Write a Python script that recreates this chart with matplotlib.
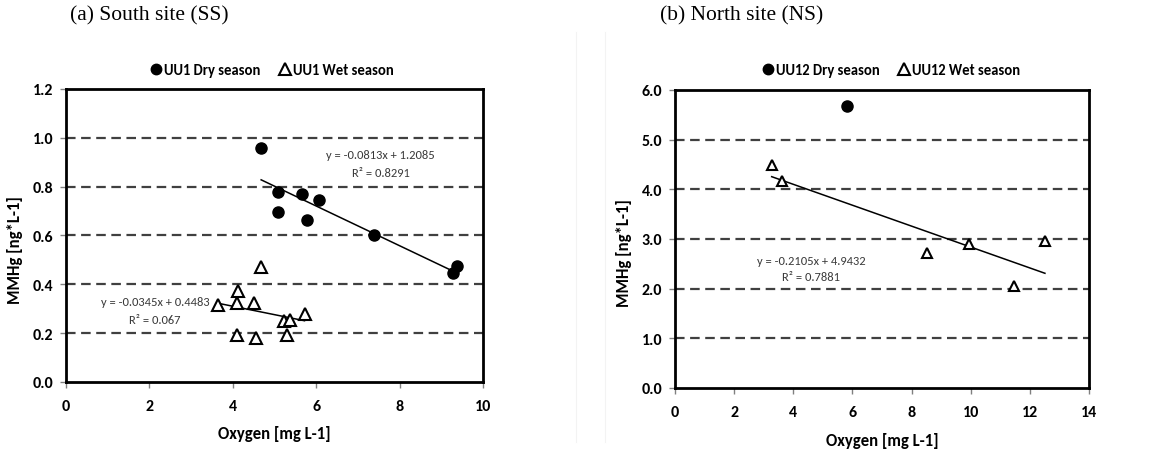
import numpy as np
import matplotlib
matplotlib.use("Agg")
import matplotlib.pyplot as plt
from matplotlib.lines import Line2D

SANS = ['Carlito', 'Lato', 'DejaVu Sans']
plt.rcParams['font.family'] = SANS

# ---- Data: South site (SS) ----
ss_dry_x = [4.68, 5.08, 5.08, 5.67, 6.07, 5.78, 7.38, 9.29, 9.38]
ss_dry_y = [0.957, 0.777, 0.697, 0.770, 0.745, 0.663, 0.602, 0.445, 0.476]
ss_wet_x = [4.67, 4.13, 3.65, 4.09, 4.51, 4.09, 4.55, 5.22, 5.36, 5.29, 5.72]
ss_wet_y = [0.470, 0.374, 0.317, 0.322, 0.323, 0.192, 0.180, 0.251, 0.254, 0.194, 0.277]
ss_dry_fit = (-0.0813, 1.2085)
ss_wet_fit = (-0.0345, 0.4483)
ss_dry_eq = ["y = -0.0813x + 1.2085", "R² = 0.8291"]
ss_wet_eq = ["y = -0.0345x + 0.4483", "R² = 0.067"]

# ---- Data: North site (NS) ----
ns_dry_x = [5.80]
ns_dry_y = [5.68]
ns_wet_x = [3.27, 3.63, 8.51, 9.95, 11.47, 12.51]
ns_wet_y = [4.48, 4.17, 2.71, 2.90, 2.05, 2.95]
ns_wet_fit = (-0.2105, 4.9432)
ns_wet_eq = ["y = -0.2105x + 4.9432", "R² = 0.7881"]

fig = plt.figure(figsize=(11.49, 4.56), dpi=100)
W, H = 1149, 456

# faint chart-area borders
for xp in (576, 605):
    fig.add_artist(Line2D([xp / W, xp / W], [1 - 443 / H, 1 - 33 / H], color='#f3f3f3', lw=0.8))

def make_ax(l, t, r, b):
    return fig.add_axes([l / W, 1 - b / H, (r - l) / W, (b - t) / H])

ax1 = make_ax(66, 90, 483, 383)
ax2 = make_ax(675, 91, 1089, 389)

def style(ax, xmax, xstep, ymax, ystep, yfmt):
    ax.set_xlim(0, xmax)
    ax.set_ylim(0, ymax)
    ax.set_xticks(np.arange(0, xmax + 0.001, xstep))
    yt = np.arange(0, ymax + 0.001, ystep)
    ax.set_yticks(yt)
    ax.set_yticklabels([yfmt.format(v) for v in yt])
    for v in yt[1:-1]:
        ax.axhline(v, color='#404040', lw=1.6, ls=(0, (4.3, 2.5)), zorder=1)
    for s in ax.spines.values():
        s.set_linewidth(2.0)
        s.set_color('black')
    ax.tick_params(axis='both', direction='out', length=4, width=1, color='#808080',
                   labelsize=11.5)
    ax.tick_params(axis='x', pad=8)
    ax.tick_params(axis='y', pad=5)
    for lab in ax.get_xticklabels() + ax.get_yticklabels():
        lab.set_fontweight('bold')
        lab.set_family(SANS)
    ax.set_xlabel('Oxygen [mg L-1]', fontsize=12, fontweight='bold', family=SANS)
    ax.set_ylabel('MMHg [ng*L-1]', fontsize=12, fontweight='bold', family=SANS)

style(ax1, 10, 2, 1.2, 0.2, '{:.1f}')
style(ax2, 14, 2, 6.0, 1.0, '{:.1f}')

ax1.xaxis.set_label_coords(0.5, -0.147)
ax1.yaxis.set_label_coords(-0.103, 0.454)
ax2.xaxis.set_label_coords(0.5, -0.148)
ax2.yaxis.set_label_coords(-0.104, 0.456)

msz = 8
eqc = '#3a3a3a'
eqs = 9
# Left panel
ax1.plot(ss_dry_x, ss_dry_y, 'o', color='black', ms=msz, zorder=3, clip_on=False)
ax1.plot(ss_wet_x, ss_wet_y, '^', mfc='white', mec='black', mew=1.5, ms=msz + 1, zorder=3, clip_on=False)
for (xs, fit) in [(ss_dry_x, ss_dry_fit), (ss_wet_x, ss_wet_fit)]:
    xx = np.array([min(xs), max(xs)])
    ax1.plot(xx, fit[0] * xx + fit[1], color='black', lw=1.1, zorder=2)
ax1.text(7.55, 0.93, ss_dry_eq[0], ha='center', va='center', fontsize=eqs, color=eqc, family=SANS)
ax1.text(7.55, 0.86, ss_dry_eq[1], ha='center', va='center', fontsize=eqs, color=eqc, family=SANS)
ax1.text(2.13, 0.328, ss_wet_eq[0], ha='center', va='center', fontsize=eqs, color=eqc, family=SANS)
ax1.text(2.13, 0.255, ss_wet_eq[1], ha='center', va='center', fontsize=eqs, color=eqc, family=SANS)

# Right panel
ax2.plot(ns_dry_x, ns_dry_y, 'o', color='black', ms=msz, zorder=3)
ax2.plot(ns_wet_x, ns_wet_y, '^', mfc='white', mec='black', mew=1.5, ms=msz - 0.5, zorder=3)
xx = np.array([min(ns_wet_x), max(ns_wet_x)])
ax2.plot(xx, ns_wet_fit[0] * xx + ns_wet_fit[1], color='black', lw=1.1, zorder=2)
ax2.text(4.6, 2.56, ns_wet_eq[0], ha='center', va='center', fontsize=eqs, color=eqc, family=SANS)
ax2.text(4.6, 2.235, ns_wet_eq[1], ha='center', va='center', fontsize=eqs, color=eqc, family=SANS)

def legend(ax, labels, tri_ms, cx, cy):
    handles = [Line2D([], [], ls='none', marker='o', color='black', ms=7.5),
               Line2D([], [], ls='none', marker='^', mfc='white', mec='black', mew=1.5, ms=tri_ms)]
    leg = ax.legend(handles, labels, loc='center', bbox_to_anchor=(cx, cy), ncol=2,
                    frameon=False, handlelength=0.6, handletextpad=0.25, columnspacing=1.4,
                    borderaxespad=0.0, borderpad=0.0,
                    prop={'size': 10.5, 'weight': 'bold', 'family': SANS})
    return leg

legend(ax1, ['UU1 Dry season', 'UU1 Wet season'], 8.5, 0.496, 1.064)
legend(ax2, ['UU12 Dry season', 'UU12 Wet season'], 8, 0.524, 1.066)

fig.text(70 / W, 1 - 16 / H, '(a) South site (SS)', family=['Liberation Serif', 'DejaVu Serif'],
         fontsize=15.5, ha='left', va='center')
fig.text(660 / W, 1 - 16 / H, '(b) North site (NS)', family=['Liberation Serif', 'DejaVu Serif'],
         fontsize=15.5, ha='left', va='center')

fig.savefig('out.png', dpi=100)
